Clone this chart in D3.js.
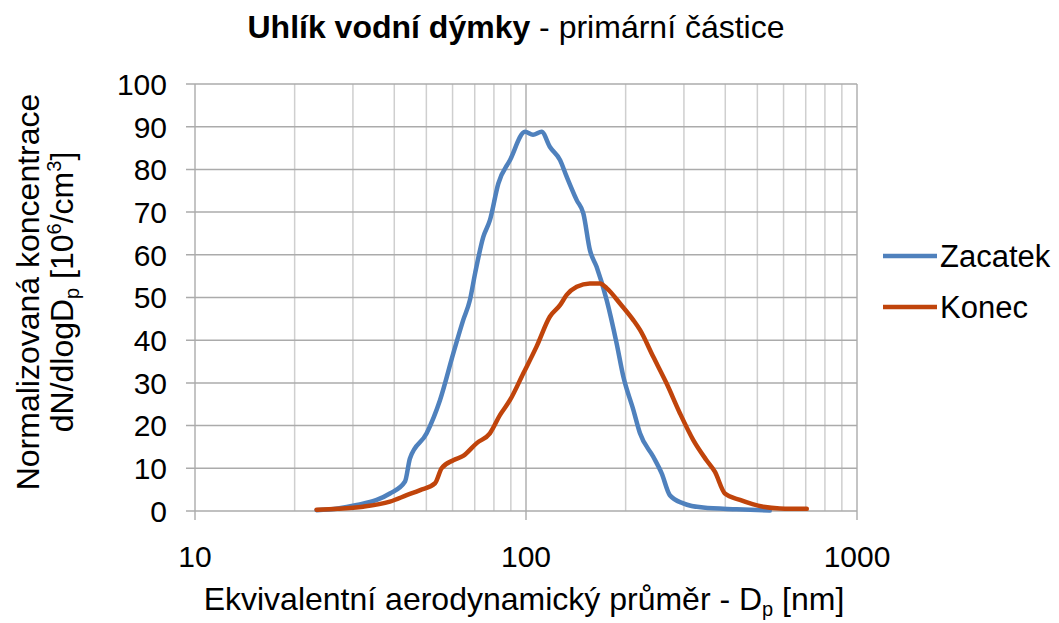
<!DOCTYPE html>
<html>
<head>
<meta charset="utf-8">
<script src="https://cdn.jsdelivr.net/npm/d3@7"></script>
<style>
  body { margin: 0; background: #fff; }
  text { font-family: "Liberation Sans", Arial, sans-serif; fill: #000; }
</style>
</head>
<body>
<svg width="1059" height="623"></svg>
<script>
(function(d3) {
    "use strict";

    // Zacatek (blue) - diameter [nm] and dN/dlogDp
    var zacatekD = [23.3, 27, 30.8, 35.4, 38.8, 43.1, 44.6, 50.1, 55, 60.3, 64.6, 67.7, 70.2, 74.3, 77.8, 82.5, 89.5, 99.3, 105, 111.5, 118, 126.7, 132.7, 142.3, 149, 156, 163.4, 175.3, 187.8, 196.8, 211, 221, 242.4, 257, 272, 298.6, 343, 433, 545],
        zacatekY = [0.2, 0.6, 1.4, 2.6, 4.1, 6.9, 12.3, 18.2, 26, 36.9, 44.7, 49.4, 55.7, 64.2, 68.1, 76.7, 82.2, 88.8, 88.1, 88.8, 85.3, 82.2, 78.3, 72.8, 69.7, 61.1, 57.2, 49.4, 39.3, 31.5, 23.7, 18.2, 12.7, 8.8, 3.7, 1.8, 0.8, 0.4, 0.1],

        // Konec (orange)
        konecD = [23.3, 27, 32.2, 38.8, 43.6, 47.9, 53.1, 55.6, 60.3, 64.6, 71, 77.8, 83.5, 89.5, 98.1, 107.6, 118, 126.7, 132.7, 142.3, 156, 167.4, 175.3, 192.3, 211, 221, 242.4, 265.8, 291.7, 320.2, 351, 372, 399, 443, 521, 585, 705],
        konecY = [0.3, 0.5, 1.0, 2.2, 3.7, 4.9, 6.5, 10, 11.9, 12.9, 15.9, 18.2, 22.5, 26, 32.2, 38.5, 45.5, 48.2, 50.6, 52.5, 53.3, 53.3, 52.2, 48.6, 44.7, 42.4, 36.1, 29.9, 22.9, 16.6, 11.9, 9.2, 4.1, 2.6, 1.0, 0.6, 0.5],

        seriesNames = ["Zacatek", "Konec"],
        seriesColors = ["#4f81bd", "#c0440b"],
        xTicks = [10, 100, 1000],
        yTicks = [0, 10, 20, 30, 40, 50, 60, 70, 80, 90, 100];

    var svg = d3.select("svg"),
        x = d3.scaleLog().domain([10, 1000]).range([195, 857]),
        y = d3.scaleLinear().domain([0, 100]).range([511, 84]);

    var minor = [];
    [10, 100].forEach(function(dec) {
        for (var k = 2; k <= 9; k++) minor.push(dec * k);
    });

    // minor vertical gridlines
    svg.append("g").selectAll("line").data(minor).enter().append("line")
        .attr("x1", function(d) { return x(d); }).attr("x2", function(d) { return x(d); })
        .attr("y1", y(100)).attr("y2", y(0))
        .attr("stroke", "#cfcfcf").attr("stroke-width", 1.5);

    // major vertical gridlines
    svg.append("g").selectAll("line").data(xTicks).enter().append("line")
        .attr("x1", function(d) { return x(d); }).attr("x2", function(d) { return x(d); })
        .attr("y1", y(100)).attr("y2", y(0) + 9)
        .attr("stroke", "#b0b0b0").attr("stroke-width", 1.5);

    // horizontal gridlines
    svg.append("g").selectAll("line").data(yTicks).enter().append("line")
        .attr("x1", x(10) - 9).attr("x2", x(1000))
        .attr("y1", function(d) { return y(d); }).attr("y2", function(d) { return y(d); })
        .attr("stroke", "#ababab").attr("stroke-width", 1.5);

    // y tick labels
    svg.append("g").selectAll("text").data(yTicks).enter().append("text")
        .attr("x", 167).attr("y", function(d) { return y(d); })
        .attr("dy", "0.36em").attr("text-anchor", "end")
        .style("font-size", "30px")
        .text(function(d) { return d; });

    // x tick labels
    svg.append("g").selectAll("text").data(xTicks).enter().append("text")
        .attr("x", function(d) { return x(d); }).attr("y", 567)
        .attr("text-anchor", "middle")
        .style("font-size", "30px")
        .text(function(d) { return d; });

    // lines
    var line = d3.line()
        .curve(d3.curveMonotoneX)
        .x(function(d) { return x(d[0]); })
        .y(function(d) { return y(d[1]); });

    var series = [
        d3.zip(zacatekD, zacatekY),
        d3.zip(konecD, konecY)
    ];

    svg.append("g").selectAll("path").data(series).enter().append("path")
        .attr("d", line)
        .attr("fill", "none")
        .attr("stroke", function(d, i) { return seriesColors[i]; })
        .attr("stroke-width", 4.5)
        .attr("stroke-linejoin", "round")
        .attr("stroke-linecap", "round");

    // legend
    var legend = svg.append("g").selectAll("g").data(seriesNames).enter().append("g")
        .attr("transform", function(d, i) { return "translate(883," + (256 + i * 51) + ")"; });
    legend.append("line")
        .attr("x1", 0).attr("x2", 54)
        .attr("stroke", function(d, i) { return seriesColors[i]; })
        .attr("stroke-width", 4.5);
    legend.append("text")
        .attr("x", 57).attr("dy", "0.36em")
        .style("font-size", "31px")
        .text(function(d) { return d; });

    // title
    var title = svg.append("text")
        .attr("x", 516).attr("y", 38)
        .attr("text-anchor", "middle")
        .style("font-size", "32px");
    title.append("tspan").style("font-weight", "bold").text("Uhlík vodní dýmky");
    title.append("tspan").text(" - primární částice");

    // x axis title
    var xt = svg.append("text")
        .attr("x", 524).attr("y", 610)
        .attr("text-anchor", "middle")
        .style("font-size", "32px");
    xt.append("tspan").text("Ekvivalentní aerodynamický průměr - D");
    xt.append("tspan").attr("dy", 6).style("font-size", "20px").text("p");
    xt.append("tspan").attr("dy", -6).text(" [nm]");

    // y axis title
    var yt = svg.append("text")
        .attr("transform", "translate(0,292) rotate(-90)")
        .attr("text-anchor", "middle")
        .style("font-size", "32px");
    yt.append("tspan").attr("x", 0).attr("y", 39).text("Normalizovaná koncentrace");
    var yt2 = yt.append("tspan").attr("x", 0).attr("y", 73);
    yt2.append("tspan").text("dN/dlogD");
    yt2.append("tspan").attr("dy", 6).style("font-size", "20px").text("p");
    yt2.append("tspan").attr("dy", -6).text(" [10");
    yt2.append("tspan").attr("dy", -12).style("font-size", "20px").text("6");
    yt2.append("tspan").attr("dy", 12).text("/cm");
    yt2.append("tspan").attr("dy", -12).style("font-size", "20px").text("3");
    yt2.append("tspan").attr("dy", 12).text("]");

}(d3));
</script>
</body>
</html>
